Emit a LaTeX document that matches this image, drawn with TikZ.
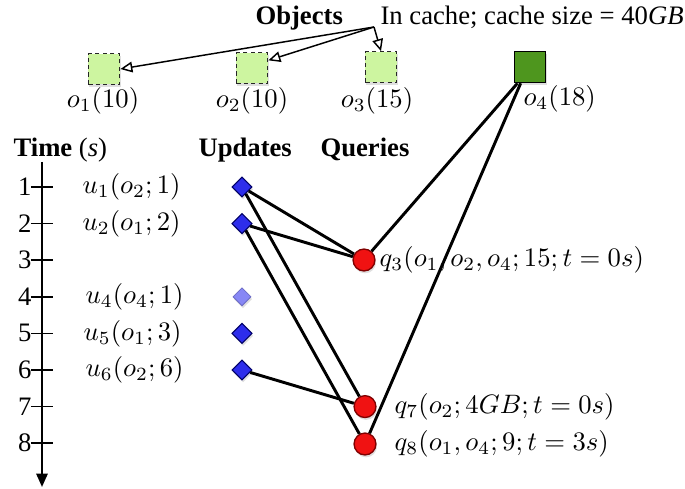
\documentclass[tikz,border=0pt]{standalone}
\usepackage{fontspec}
\setmainfont{Liberation Serif}
\usetikzlibrary{arrows.meta,shapes.geometric,shadows}
\definecolor{cachegreen}{RGB}{205,245,160}
\definecolor{objgreen}{RGB}{78,150,30}
\definecolor{updblue}{RGB}{45,45,235}
\definecolor{updlight}{RGB}{135,135,245}
\definecolor{qred}{RGB}{240,18,18}
\begin{document}
\begin{tikzpicture}[x=0.375pt,y=-0.375pt,
  font=\fontsize{10}{12}\selectfont,
  softshadow/.style={drop shadow={opacity=0.25,shadow xshift=0.4pt,shadow yshift=-0.9pt}},
  cachebox/.style={draw=black!85, dashed, dash pattern=on 1.6pt off 1.2pt, fill=cachegreen, minimum width=11.8pt, minimum height=11.4pt, inner sep=0pt, line width=0.5pt, softshadow},
  objbox/.style={draw=black, fill=objgreen, minimum width=11.6pt, minimum height=11.6pt, inner sep=0pt, line width=0.6pt, softshadow},
  upd/.style={diamond, draw=blue!40!black, fill=updblue, minimum size=7.6pt, inner sep=0pt, line width=0.4pt, softshadow},
  updfaint/.style={diamond, draw=updlight!80!black, fill=updlight, minimum size=6.8pt, inner sep=0pt, line width=0.3pt, softshadow},
  qry/.style={circle, draw=red!50!black, fill=qred, minimum size=8.2pt, inner sep=0pt, line width=0.5pt, softshadow},
  conn/.style={line width=1.1pt, black},
  cachearrow/.style={line width=0.55pt, -{Triangle[open,length=4.5pt,width=4pt]}},
  hdr/.style={anchor=base west, inner sep=0pt},
  lbl/.style={anchor=west, inner sep=0pt},
]
\useasboundingbox (0,0) rectangle (685,489);

% headers
\node[hdr] (objects) at (255,25) {\textbf{Objects}};
\node[hdr] (incache) at (380,25) {In cache; cache size = 40\textit{GB}};
\coordinate (src) at (374,27);

% objects
\node[cachebox] (o1) at (104,69) {};
\node[cachebox] (o2) at (252,68) {};
\node[cachebox] (o3) at (381,67) {};
\node[objbox] (o4) at (530,67) {};
\node[anchor=base, inner sep=0pt] (o1l) at (103,108) {$o_1(10)$};
\node[anchor=base, inner sep=0pt] (o2l) at (252,108) {$o_2(10)$};
\node[anchor=base, inner sep=0pt] (o3l) at (377,108) {$o_3(15)$};
\node[anchor=base west, inner sep=0pt] (o4l) at (523,106) {$o_4(18)$};

\draw[cachearrow] (src) -- (o1.east);
\draw[cachearrow] (src) -- (o2.25);
\draw[cachearrow] (src) -- (o3.north);

% column headers
\node[hdr] (timeh) at (13,157) {\textbf{Time} (\textit{s})};
\node[hdr] (updh) at (198,157) {\textbf{Updates}};
\node[hdr] (qryh) at (320,157) {\textbf{Queries}};

% time axis
\coordinate (axtop) at (42,162);
\coordinate (axbot) at (42,487);
\draw[line width=0.8pt, -{Triangle[length=5pt,width=4.2pt]}] (axtop) -- (axbot);
\foreach \k in {1,...,8} {
  \pgfmathsetmacro{\yy}{187+36.6*(\k-1)}
  \draw[line width=0.6pt] (31,\yy) -- (53,\yy);
  \node[anchor=east, inner sep=0pt] (t\k) at (32,\yy) {\k};
}

% updates
\node[upd] (u1) at (242,187) {};
\node[upd] (u2) at (242,223.6) {};
\node[updfaint] (u4) at (242,296.8) {};
\node[upd] (u5) at (242,333.4) {};
\node[upd] (u6) at (242,370) {};
\node[lbl] (u1l) at (82,187) {$u_1(o_2;1)$};
\node[lbl] (u2l) at (82,223.6) {$u_2(o_1;2)$};
\node[lbl] (u4l) at (85,296.8) {$u_4(o_4;1)$};
\node[lbl] (u5l) at (83,333.4) {$u_5(o_1;3)$};
\node[lbl] (u6l) at (85,370) {$u_6(o_2;6)$};

% queries
\node[qry] (q3) at (364,260) {};
\node[qry] (q7) at (365,406.6) {};
\node[qry] (q8) at (365,444) {};
\node[lbl] (q3l) at (379,260) {$q_3(o_1,o_2,o_4;15;t=0s)$};
\node[lbl] (q7l) at (394,406.6) {$q_7(o_2;4GB;t=0s)$};
\node[lbl] (q8l) at (394,444) {$q_8(o_1,o_4;9;t=3s)$};

% connectors
\draw[conn] (u1) -- (q3);
\draw[conn] (u2) -- (q3);
\draw[conn] ([xshift=1.4pt]o4.south west) -- (q3);
\draw[conn] (u1) -- (q7);
\draw[conn] (u6) -- (q7);
\draw[conn] (u2) -- (q8);
\draw[conn] ([xshift=2.6pt]o4.south west) -- (q8);
\end{tikzpicture}
\end{document}
